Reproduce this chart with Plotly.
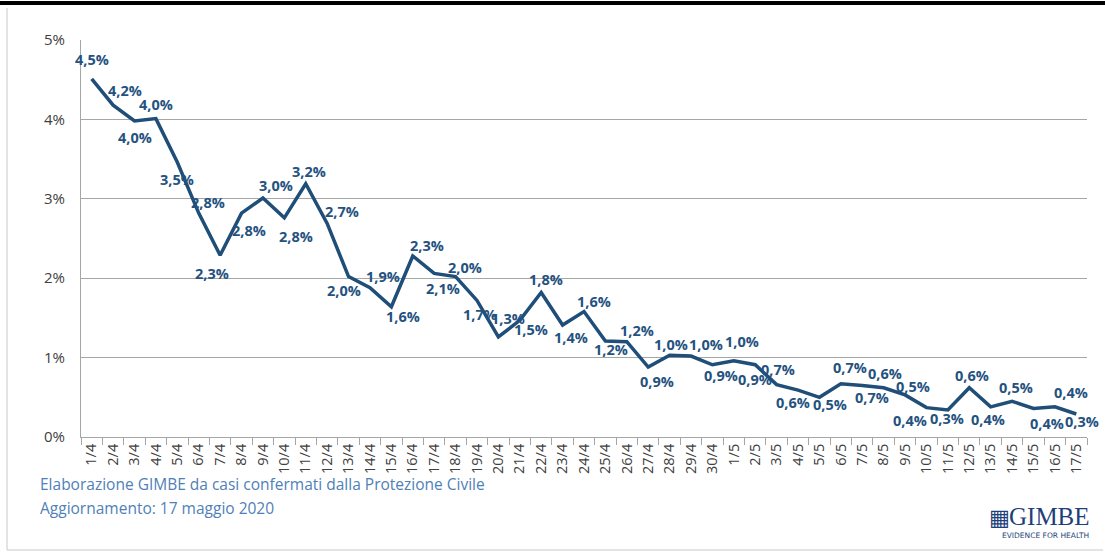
import plotly.graph_objects as go

dates = ["1/4", "2/4", "3/4", "4/4", "5/4", "6/4", "7/4", "8/4", "9/4", "10/4",
         "11/4", "12/4", "13/4", "14/4", "15/4", "16/4", "17/4", "18/4", "19/4", "20/4",
         "21/4", "22/4", "23/4", "24/4", "25/4", "26/4", "27/4", "28/4", "29/4", "30/4",
         "1/5", "2/5", "3/5", "4/5", "5/5", "6/5", "7/5", "8/5", "9/5", "10/5",
         "11/5", "12/5", "13/5", "14/5", "15/5", "16/5", "17/5"]

growth = [4.51, 4.18, 3.98, 4.01, 3.46, 2.82, 2.29, 2.82, 3.01, 2.76,
          3.19, 2.69, 2.02, 1.88, 1.64, 2.28, 2.06, 2.02, 1.72, 1.26,
          1.47, 1.82, 1.41, 1.58, 1.21, 1.2, 0.88, 1.03, 1.02, 0.91,
          0.96, 0.91, 0.66, 0.59, 0.5, 0.67, 0.65, 0.62, 0.53, 0.37,
          0.34, 0.62, 0.38, 0.45, 0.36, 0.38, 0.29]

y_ticks = [0, 1, 2, 3, 4, 5]
y_tick_labels = ["0%", "1%", "2%", "3%", "4%", "5%"]

# spostamento delle etichette rispetto al punto (pixel, y verso il basso)
label_dx = [0, 12, 0, 0, 0, 9, -8, 7, 13, 12,
            3, 15, -5, 13, 12, 14, 9, 9, 3, 10,
            11, 5, 8, 10, 6, 10, 9, 1, 15, 9,
            8, 0, 1, -5, 11, 9, 10, 1, 8, -16,
            -1, 3, -3, 4, 14, 16, 6]
label_dy = [-19, -15, 17, -14, 17, -11, 18, 17, -13, 19,
            -12, -12, 14, -11, 10, -10, 15, -9, 14, -18,
            9, -13, 12, -10, 9, -11, 14, -11, -12, 11,
            -19, 15, -15, 12, 7, -16, 12, -14, -8, 13,
            8, -12, 13, -14, 15, -14, 8]

labels = [f"{v:.1f}%".replace(".", ",") for v in growth]

NAVY = "#1f4e79"
W, H = 1105, 555
L, R, T, B = 81, 1087, 40, 437


def px_x(x):
    return (x - L) / (R - L)


def px_y(y):
    return (B - y) / (B - T)


fig = go.Figure()
fig.add_trace(go.Scatter(
    x=dates, y=growth, mode="lines",
    line=dict(color=NAVY, width=3.5),
    hoverinfo="skip", showlegend=False,
))

for d, v, t, dx, dy in zip(dates, growth, labels, label_dx, label_dy):
    fig.add_annotation(x=d, y=v, text=t, showarrow=False,
                       xshift=dx, yshift=-dy,
                       font=dict(family="Open Sans", size=14.5, color="#24527f",
                                 weight="bold"))

fig.update_layout(
    width=W, height=H,
    margin=dict(l=L, r=W - R, t=T, b=H - B),
    plot_bgcolor="white", paper_bgcolor="white",
    font=dict(family="Open Sans", color="#404040"),
    xaxis=dict(
        type="category", tickangle=-90, tickfont=dict(size=14.5, color="#404040"),
        showgrid=False, showline=True, linecolor="#a6a6a6", linewidth=1,
        ticks="outside", tickson="boundaries", tickcolor="#a6a6a6", ticklen=7,
        range=[-0.5, len(dates) - 0.5],
    ),
    yaxis=dict(
        range=[0, 5], tickvals=y_ticks, ticktext=y_tick_labels,
        tickfont=dict(size=15, color="#404040"),
        showgrid=True, gridcolor="#a6a6a6", gridwidth=1,
        showline=True, linecolor="#a6a6a6", zeroline=False, ticks="",
        ticklabelstandoff=12,
    ),
)

# cornice
fig.add_shape(type="line", xref="paper", yref="paper",
              x0=px_x(0), x1=px_x(W), y0=px_y(3), y1=px_y(3),
              line=dict(color="black", width=4))
fig.add_shape(type="line", xref="paper", yref="paper",
              x0=px_x(7), x1=px_x(7), y0=px_y(8), y1=px_y(550),
              line=dict(color="#c8c8c8", width=1))
fig.add_shape(type="line", xref="paper", yref="paper",
              x0=px_x(7), x1=px_x(1103), y0=px_y(550), y1=px_y(550),
              line=dict(color="#c8c8c8", width=1))

fig.add_annotation(x=px_x(38), y=px_y(484), xref="paper", yref="paper",
                   xanchor="left", yanchor="middle", showarrow=False,
                   text="Elaborazione GIMBE da casi confermati dalla Protezione Civile",
                   font=dict(family="Open Sans", size=15.5, color="#4f7fb8"))
fig.add_annotation(x=px_x(38), y=px_y(508), xref="paper", yref="paper",
                   xanchor="left", yanchor="middle", showarrow=False,
                   text="Aggiornamento: 17 maggio 2020",
                   font=dict(family="Open Sans", size=15.5, color="#4f7fb8"))

# logo
fig.add_annotation(x=px_x(1092), y=px_y(516), xref="paper", yref="paper",
                   xanchor="right", yanchor="middle", showarrow=False,
                   text="GIMBE",
                   font=dict(family="Liberation Serif", size=25, color="#1f3f7a"))
fig.add_annotation(x=px_x(1012), y=px_y(517), xref="paper", yref="paper",
                   xanchor="right", yanchor="middle", showarrow=False,
                   text="▦",
                   font=dict(family="DejaVu Sans", size=22, color="#1f3f7a"))
fig.add_annotation(x=px_x(1091), y=px_y(535), xref="paper", yref="paper",
                   xanchor="right", yanchor="middle", showarrow=False,
                   text="EVIDENCE FOR HEALTH",
                   font=dict(family="DejaVu Sans", size=7.5, color="#1f3f7a"))

fig.write_html("out.html", config={"displayModeBar": False},
               post_script="document.body.style.margin='0';")
